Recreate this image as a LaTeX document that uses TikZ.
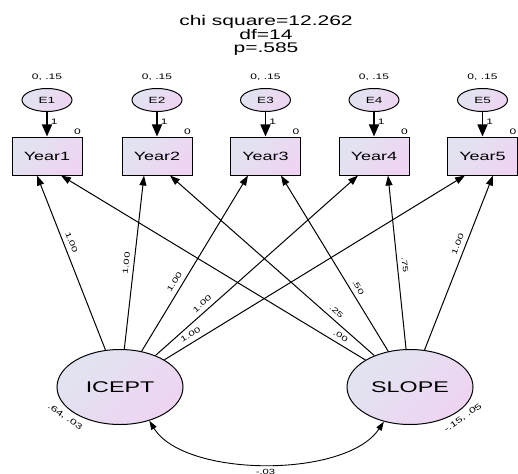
\documentclass[tikz,border=0pt]{standalone}
\usepackage{fontspec}
\newfontfamily\amos[FakeStretch=1.5]{Liberation Sans}
\usetikzlibrary{arrows.meta,shapes.geometric,calc}
\definecolor{fillA}{RGB}{225,228,240}
\definecolor{fillB}{RGB}{238,212,242}
\begin{document}
\begin{tikzpicture}[x=1pt,y=-1pt,
  shadefill/.style={top color=fillA, bottom color=fillB, shading angle=45},
  obs/.style={draw, line width=1pt, rectangle, minimum width=70pt, minimum height=38pt, inner sep=0pt, shadefill, font=\amos\fontsize{12}{12}\selectfont},
  err/.style={draw, line width=1pt, ellipse, minimum width=50pt, minimum height=23pt, inner sep=0pt, shadefill, font=\amos\fontsize{9}{9}\selectfont},
  lat/.style={draw, line width=1pt, ellipse, minimum width=126pt, minimum height=75pt, inner sep=0pt, shadefill, font=\amos\fontsize{15.5}{15.5}\selectfont},
  small/.style={font=\amos\fontsize{8}{8}\selectfont, inner sep=1pt},
  lbl/.style={font=\amos\fontsize{7.5}{7.5}\selectfont, inner sep=4.5pt},
  reg/.style={line width=1pt, -{Triangle[length=10pt,width=7pt]}},
  errarrow/.style={line width=1.6pt, -{Triangle[length=12pt,width=10pt]}},
  cov/.style={line width=0.9pt, {Triangle[length=9pt,width=6pt]}-{Triangle[length=9pt,width=6pt]}}
]
\useasboundingbox (0,0) rectangle (518,473);

\node[align=center, font=\amos\fontsize{14}{13.5}\selectfont] (title) at (266,35.5) {chi square=12.262\\df=14\\p=.585};

\foreach \i/\x/\a/\b in {1/47/-10/14, 2/157/-13/13, 3/265.5/-17.5/15.5, 4/374/-16/14, 5/482.5/-17.5/10.5} {
  \node[obs] (Y\i) at (\x,156) {Year\i};
  \node[err] (E\i) at (\x,100) {E\i};
  \node[small] (v\i) at (\x,77) {0, .15};
  \node[small] (m\i) at ($(Y\i.north east)+(-5,-5)$) {0};
  \draw[errarrow] (E\i) -- (Y\i) node[small, pos=0.38, right=2pt] (w\i) {1};
  \coordinate (Yi\i) at ($(Y\i.south)+(\a,0)$);
  \coordinate (Ys\i) at ($(Y\i.south)+(\b,0)$);
}

\node[lat] (ICEPT) at (120,387) {ICEPT};
\node[lat] (SLOPE) at (410,387) {SLOPE};

\node[small, rotate=-35] (ivar) at (65,417) {.64, .03};
\node[small, rotate=35] (svar) at (463,418) {-.15, .05};

\draw[reg] (ICEPT) -- (Yi1) node[lbl, sloped, pos=0.60, above] (pi1) {1.00};
\draw[reg] (ICEPT) -- (Yi2) node[lbl, sloped, pos=0.49, above] (pi2) {1.00};
\draw[reg] (ICEPT) -- (Yi3) node[lbl, sloped, pos=0.37, above] (pi3) {1.00};
\draw[reg] (ICEPT) -- (Yi4) node[lbl, sloped, pos=0.255, above] (pi4) {1.00};
\draw[reg] (ICEPT) -- (Yi5) node[lbl, sloped, pos=0.10, above] (pi5) {1.00};

\draw[reg] (SLOPE) -- (Ys1) node[lbl, sloped, pos=0.094, above] (ps1) {.00};
\draw[reg] (SLOPE) -- (Ys2) node[lbl, sloped, pos=0.21, above] (ps2) {.25};
\draw[reg] (SLOPE) -- (Ys3) node[lbl, sloped, pos=0.34, above] (ps3) {.50};
\draw[reg] (SLOPE) -- (Ys4) node[lbl, sloped, pos=0.48, above] (ps4) {.75};
\draw[reg] (SLOPE) -- (Ys5) node[lbl, sloped, pos=0.59, above] (ps5) {1.00};

\draw[cov] (ICEPT.-49) .. controls +(35,57) and +(-38,57) .. (SLOPE.-127) node[lbl, pos=0.5, below] (cv) {-.03};
\end{tikzpicture}
\end{document}
